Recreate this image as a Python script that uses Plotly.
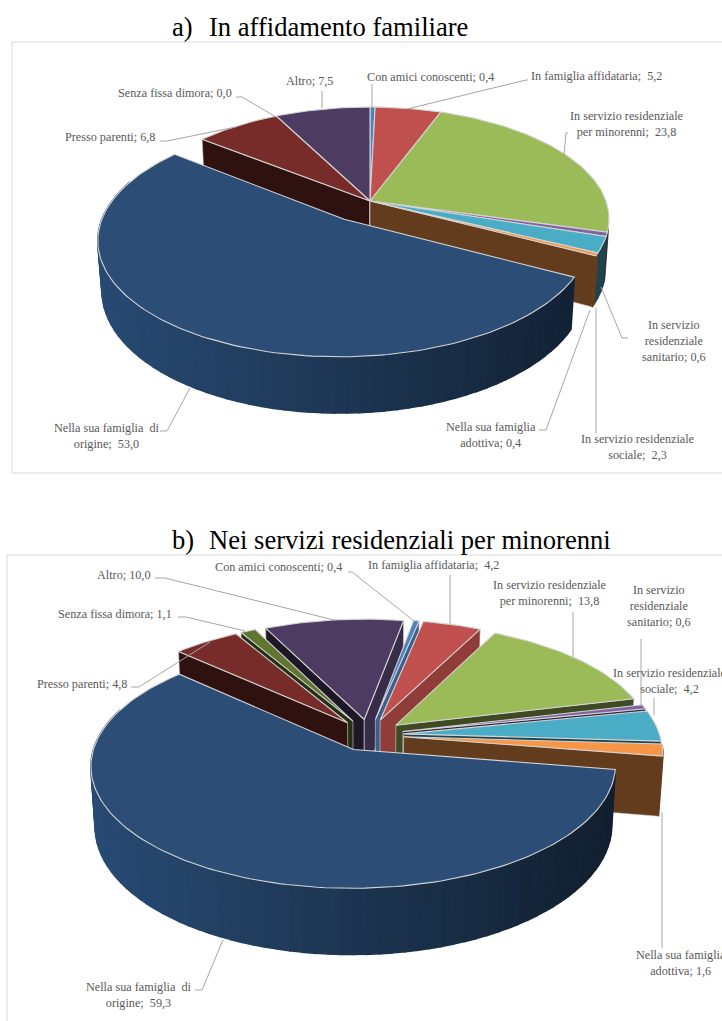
import math
import plotly.graph_objects as go

categories = ["Con amici conoscenti", "In famiglia affidataria", "In servizio residenziale per minorenni",
              "In servizio residenziale sanitario", "In servizio residenziale sociale", "Nella sua famiglia adottiva",
              "Nella sua famiglia di origine", "Presso parenti", "Senza fissa dimora", "Altro"]
values_a = [0.4, 5.2, 23.8, 0.6, 2.3, 0.4, 53.0, 6.8, 0.0, 7.5]
values_b = [0.4, 4.2, 13.8, 0.6, 4.2, 1.6, 59.3, 4.8, 1.1, 10.0]
colors = ["#4F81BD", "#C0504D", "#9BBB59", "#8064A2", "#4BACC6", "#F79646", "#2C4D75", "#772C2A", "#5F7530", "#4D3B62"]
explode_a = [0, 0, 0, 0, 0, 0, 0.195, 0, 0, 0]
explode_b = [0.136] * 10

title_a = "In affidamento familiare"
title_b = "Nei servizi residenziali per minorenni"

labels_a = [
    ("Con amici conoscenti; 0,4", 430, 77), ("In famiglia affidataria;\u00a0 5,2", 596, 76),
    ("In servizio residenziale<br>per minorenni;\u00a0 23,8", 626, 124),
    ("In servizio<br>residenziale<br>sanitario; 0,6", 674, 341),
    ("In servizio residenziale<br>sociale;\u00a0 2,3", 637, 447),
    ("Nella sua famiglia<br>adottiva; 0,4", 491, 435),
    ("Nella sua famiglia\u00a0 di<br>origine;\u00a0 53,0", 107, 436),
    ("Presso parenti; 6,8", 110, 137), ("Senza fissa dimora; 0,0", 175, 93), ("Altro; 7,5", 309, 81)]
labels_b = [
    ("Con amici conoscenti; 0,4", 278, 567), ("In famiglia affidataria;\u00a0 4,2", 433, 565),
    ("In servizio residenziale<br>per minorenni;\u00a0 13,8", 549, 593),
    ("In servizio<br>residenziale<br>sanitario; 0,6", 659, 606),
    ("In servizio residenziale<br>sociale;\u00a0 4,2", 669, 681),
    ("Nella sua famiglia<br>adottiva; 1,6", 681, 963),
    ("Nella sua famiglia\u00a0 di<br>origine;\u00a0 59,3", 139, 995),
    ("Presso parenti; 4,8", 82, 684), ("Senza fissa dimora; 1,1", 115, 614), ("Altro; 10,0", 124, 575)]

leaders = [
    [(322, 91), (322, 108)], [(236, 97), (242, 97), (276, 117)], [(160, 141), (167, 141), (236, 127)],
    [(372, 84), (372, 107)], [(528, 80), (526, 80), (407, 109)], [(568, 133), (566, 133), (564, 155)],
    [(628, 338), (622, 338), (601, 287)], [(160, 431), (167, 431), (190, 388)],
    [(539, 430), (546, 430), (590, 310)], [(596, 308), (596, 433)],
    [(155, 578), (165, 578), (334, 620)], [(348, 572), (352, 572), (414, 621)],
    [(178, 617), (186, 617), (245, 631)], [(131, 687), (139, 687), (210, 642)],
    [(450, 575), (450, 625)], [(573, 612), (573, 657)], [(641, 639), (641, 705)], [(654, 698), (654, 715)],
    [(195, 990), (202, 990), (223, 940)], [(662, 812), (662, 948)],
]

GEOM_A = dict(cx=370, cy=201, A=236, B=109, k=0.16, m=0.015, D=49, rot=0, tv0=104, tv1=290)
GEOM_B = dict(cx=369, cy=735, A=256, B=117, k=0.128, m=0.015, D=60, rot=10, tv0=94, tv1=290)
EDGE = "#d4d4d4"
FONT = "Liberation Serif"


def shade(hex_color, f):
    r, g, b = (int(hex_color[i:i + 2], 16) for i in (1, 3, 5))
    return f"rgb({int(r * f)},{int(g * f)},{int(b * f)})"


def lerp(c0, c1, f):
    return "rgb(" + ",".join(str(int(a + (b - a) * f)) for a, b in zip(c0, c1)) + ")"


def project(g, X, Y, z):
    s = 1 / (1 + g["k"] * Y + g["m"] * z)
    return g["cx"] + g["A"] * X * s, g["cy"] - g["B"] * Y * s + g["D"] * z * s


def poly(fig, pts, fill, line=None, width=0.75):
    xs = [p[0] for p in pts] + [pts[0][0]]
    ys = [p[1] for p in pts] + [pts[0][1]]
    fig.add_trace(go.Scatter(x=xs, y=ys, mode="lines", fill="toself", fillcolor=fill,
                             line=dict(color=line or fill, width=width), hoverinfo="skip", showlegend=False))


def draw_pie(fig, values, explode, g):
    total = sum(values)
    acc = g["rot"]
    slices = []
    for i, v in enumerate(values):
        span = v / total * 360
        if v > 0:
            slices.append((i, acc, acc + span))
        acc += span
    slices.sort(key=lambda s: -math.cos(math.radians((s[1] + s[2]) / 2)))
    for i, t0, t1 in slices:
        mid = math.radians((t0 + t1) / 2)
        ex, ey = explode[i] * math.sin(mid), explode[i] * math.cos(mid)

        def rim(t, z):
            r = math.radians(t)
            return project(g, ex + math.sin(r), ey + math.cos(r), z)

        apex_t, apex_b = project(g, ex, ey, 0), project(g, ex, ey, 1)
        # radial cut faces that look toward the viewer
        for t, normal in ((t0, t0 - 90), (t1, t1 + 90)):
            n = normal % 360
            if 90 < n < 270:
                f = 0.75 if n < 130 else 0.4
                poly(fig, [apex_t, rim(t, 0), rim(t, 1), apex_b], shade(colors[i], f), EDGE, 0.6)
        # outer wall
        a, b = max(t0, g["tv0"]), min(t1, g["tv1"])
        if b > a:
            is_big = (b - a) > 90
            n = max(1, int((b - a) / 2.5))
            for j in range(n):
                u0, u1 = a + (b - a) * j / n, a + (b - a) * (j + 1) / n
                if is_big:
                    x_mid = rim((u0 + u1) / 2, 0)[0]
                    f = (x_mid - (g["cx"] - 270)) / 530
                    col = lerp((40, 75, 115), (17, 30, 46), max(0, min(1, f)))
                else:
                    col = shade(colors[i], 0.4)
                poly(fig, [rim(u0, 0), rim(u1, 0), rim(u1, 1), rim(u0, 1)], col, col, 1.6)
        # top surface
        n = max(2, int((t1 - t0) / 1.5))
        arc = [rim(t0 + (t1 - t0) * j / n, 0) for j in range(n + 1)]
        poly(fig, [apex_t] + arc, colors[i], EDGE, 1.1)


fig = go.Figure()
draw_pie(fig, values_a, explode_a, GEOM_A)
draw_pie(fig, values_b, explode_b, GEOM_B)

for pts in leaders:
    fig.add_trace(go.Scatter(x=[p[0] for p in pts], y=[p[1] for p in pts], mode="lines",
                             line=dict(color="#a6a6a6", width=1), hoverinfo="skip", showlegend=False))

annotations = []
for text, x, y in labels_a + labels_b:
    annotations.append(dict(x=x, y=y, text=text, showarrow=False, xanchor="center", yanchor="middle",
                            font=dict(family=FONT, size=12.2, color="#595959"), align="center"))
for marker, title, y in (("a)", title_a, 27), ("b)", title_b, 540)):
    annotations.append(dict(x=170, y=y, text=marker, showarrow=False, xanchor="left", yanchor="middle",
                            font=dict(family=FONT, size=26.6, color="#000000")))
    annotations.append(dict(x=207, y=y, text=title, showarrow=False, xanchor="left", yanchor="middle",
                            font=dict(family=FONT, size=26.6, color="#000000")))

frame = dict(color="#d9d9d9", width=1)
shapes = [dict(type="rect", x0=12, y0=42, x1=730, y1=473, line=frame, layer="below"),
          dict(type="rect", x0=7, y0=555, x1=730, y1=1040, line=frame, layer="below")]

fig.update_layout(width=722, height=1021, margin=dict(l=0, r=0, t=0, b=0), paper_bgcolor="white",
                  plot_bgcolor="white", showlegend=False, annotations=annotations, shapes=shapes,
                  xaxis=dict(range=[0, 722], visible=False, fixedrange=True),
                  yaxis=dict(range=[1021, 0], visible=False, fixedrange=True))
fig.write_html("out.html", post_script="document.body.style.margin='0';", config=dict(displayModeBar=False))
